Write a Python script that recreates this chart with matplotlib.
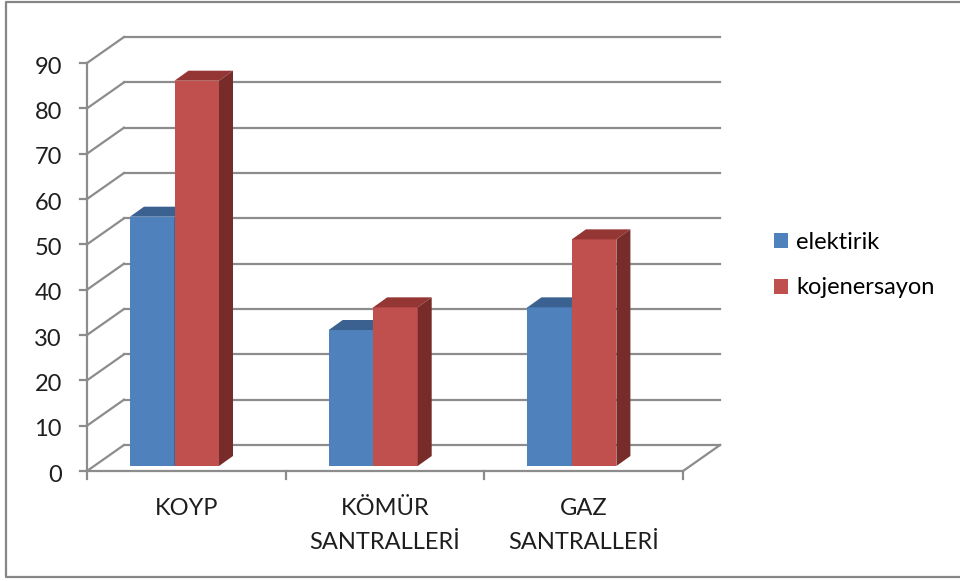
import matplotlib.pyplot as plt
from matplotlib.patches import Polygon, Rectangle
from matplotlib.lines import Line2D

categories = ["KOYP", "KÖMÜR\nSANTRALLERİ", "GAZ\nSANTRALLERİ"]
series_names = ["elektirik", "kojenersayon"]
elektirik = [55, 30, 35]
kojenersayon = [85, 35, 50]
y_ticks = list(range(0, 100, 10))

# colors: front, top, side
colors = [("#4F81BD", "#3A6190", "#2E4E74"),
          ("#C0504D", "#943634", "#772C2A")]
grid_col = "#8C8C8C"
txt_col = "#1E1E1E"
fs = 17

plt.rcParams['font.family'] = ['Lato', 'DejaVu Sans']

fig = plt.figure(figsize=(9.6, 5.81), dpi=100)
ax = fig.add_axes([0, 0, 1, 1])
# pixel scale of the front plane
px_cat = 198.7
px_unit = 4.533
ax.set_xlim(-87 / px_cat, (960 - 87) / px_cat)
ax.set_ylim(-110 / px_unit, 471 / px_unit)
ax.axis('off')

# wall depth offset (data units)
ddx = 37 / px_cat
ddy = 26 / px_unit
n = len(categories)
ymax = y_ticks[-1]

# back wall gridlines and left wall diagonals
for v in y_ticks:
    ax.add_line(Line2D([ddx, n + ddx], [v + ddy, v + ddy], color=grid_col, lw=1.6, zorder=1))
    ax.add_line(Line2D([0, ddx], [v, v + ddy], color=grid_col, lw=1.6, zorder=1))
    ax.add_line(Line2D([-7 / px_cat, 0], [v, v], color=grid_col, lw=1.6, zorder=1))
    ax.text(-25 / px_cat, v - 4 / px_unit, str(v), ha='right', va='center', fontsize=fs, color=txt_col)
# floor
ax.add_line(Line2D([0, n], [0, 0], color=grid_col, lw=1.6, zorder=1))
ax.add_line(Line2D([n, n + ddx], [0, ddy], color=grid_col, lw=1.6, zorder=1))
# front vertical axis
ax.add_line(Line2D([0, 0], [0, ymax], color=grid_col, lw=1.6, zorder=1))
# category ticks
for i in range(n + 1):
    ax.add_line(Line2D([i, i], [0, -8 / px_unit], color=grid_col, lw=1.6, zorder=1))

# bars
bar_off = 43 / px_cat
bar_w = 44.5 / px_cat
bar_base = 5 / px_unit
bdx = 14 / px_cat
bdy = 10 / px_unit
for j, vals in enumerate([elektirik, kojenersayon]):
    front, top_c, side_c = colors[j]
    for i, v in enumerate(vals):
        l = i + bar_off + j * bar_w
        r = l + bar_w
        b = bar_base
        t = bar_base + v
        z = 2 + j
        ax.add_patch(Rectangle((l, b), bar_w, v, facecolor=front, edgecolor='none', zorder=z))
        ax.add_patch(Polygon([(l, t), (r, t), (r + bdx, t + bdy), (l + bdx, t + bdy)],
                             closed=True, facecolor=top_c, edgecolor='none', zorder=z))
        ax.add_patch(Polygon([(r, b), (r, t), (r + bdx, t + bdy), (r + bdx, b + bdy)],
                             closed=True, facecolor=side_c, edgecolor='none', zorder=z))

# category labels
for i, c in enumerate(categories):
    ax.text(i + 0.5, -27 / px_unit, c, ha='center', va='top', fontsize=fs,
            color=txt_col, linespacing=1.75)

# legend
handles = [Rectangle((0, 0), 1, 1, facecolor=colors[j][0], edgecolor='none') for j in range(2)]
fig.legend(handles, series_names, loc='center left', bbox_to_anchor=(774 / 960, 1 - 265 / 581),
           frameon=False, fontsize=fs, handlelength=0.6, handleheight=0.6,
           handletextpad=0.35, labelspacing=1.05, borderaxespad=0, borderpad=0)

# outer border (left, top, bottom)
fig.lines.append(Line2D([1, 6 / 960, 6 / 960, 1], [1 - 1.5 / 581, 1 - 1.5 / 581, 4 / 581, 4 / 581],
                        transform=fig.transFigure, color="#868686", lw=1.6))

fig.savefig("out.png", dpi=100)
